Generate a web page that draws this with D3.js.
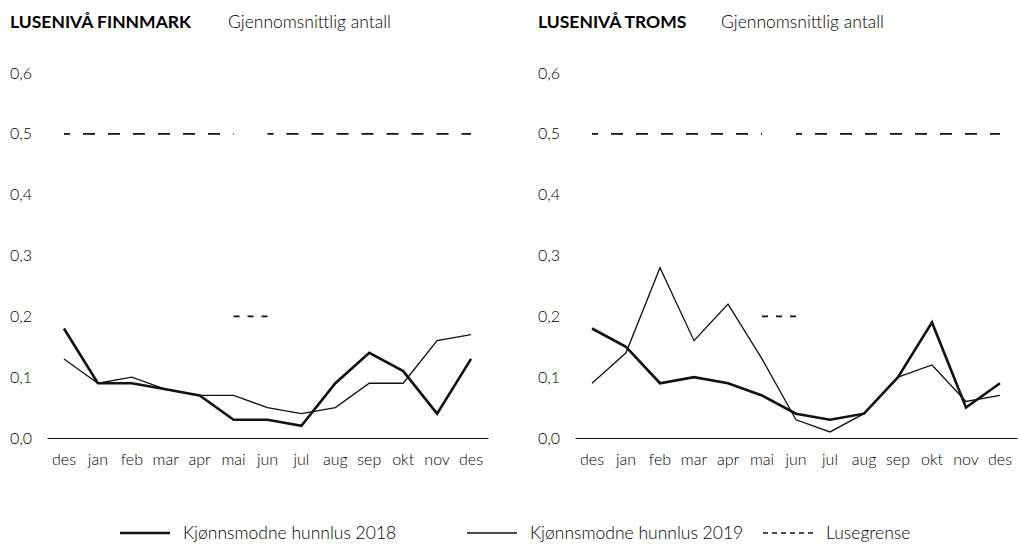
<!DOCTYPE html>
<html>
<head>
<meta charset="utf-8">
<script src="https://cdn.jsdelivr.net/npm/d3@7"></script>
<style>
  html, body { margin: 0; padding: 0; background: #fff; }
  svg { display: block; font-family: Lato, "Open Sans", sans-serif; }
  .tick text { font-size: 16px; fill: #000; font-weight: 300; }
</style>
</head>
<body>
<svg id="chart" width="1018" height="544"></svg>
<script>
// Months on the x axis (december to december)
const months = ["des", "jan", "feb", "mar", "apr", "mai", "jun", "jul", "aug", "sep", "okt", "nov", "des"];
const yTicks = [0, 0.1, 0.2, 0.3, 0.4, 0.5, 0.6];

// Finnmark: average number of adult female lice
const finnmark2018 = [0.18, 0.09, 0.09, 0.08, 0.07, 0.03, 0.03, 0.02, 0.09, 0.14, 0.11, 0.04, 0.13];
const finnmark2019 = [0.13, 0.09, 0.10, 0.08, 0.07, 0.07, 0.05, 0.04, 0.05, 0.09, 0.09, 0.16, 0.17];

// Troms: average number of adult female lice
const troms2018 = [0.18, 0.15, 0.09, 0.10, 0.09, 0.07, 0.04, 0.03, 0.04, 0.10, 0.19, 0.05, 0.09];
const troms2019 = [0.09, 0.14, 0.28, 0.16, 0.22, 0.13, 0.03, 0.01, 0.04, 0.10, 0.12, 0.06, 0.07];

// Lice limit: 0.5 most of the year, 0.2 in the spring period (mai–jun)
const limitFrom  = [0, 5, 6];
const limitTo    = [5, 6, 12];
const limitValue = [0.5, 0.2, 0.5];

const panels = [
  { title: "LUSENIVÅ FINNMARK", s2018: finnmark2018, s2019: finnmark2019,
    titleX: 10, subX: 228, labelX: 10, x0: 47, x1: 488 },
  { title: "LUSENIVÅ TROMS", s2018: troms2018, s2019: troms2019,
    titleX: 538, subX: 721, labelX: 538, x0: 575, x1: 1017 }
];

const svg = d3.select("#chart");
const y = d3.scaleLinear().domain([0, 0.6]).range([438, 73]);
const fmt = v => d3.format(".1f")(v).replace(".", ",");

panels.forEach(p => {
  const g = svg.append("g");
  const x = d3.scaleBand().domain(d3.range(months.length)).range([p.x0, p.x1]);
  const cx = i => x(i) + x.bandwidth() / 2;

  // Titles
  g.append("text").attr("x", p.titleX).attr("y", 28)
    .attr("font-size", 17.5).attr("font-weight", 700).attr("fill", "#000")
    .text(p.title);
  g.append("text").attr("x", p.subX).attr("y", 28)
    .attr("font-size", 17.5).attr("font-weight", 300).attr("fill", "#000")
    .text("Gjennomsnittlig antall");

  // Y tick labels
  g.selectAll(".ylab").data(yTicks).join("text")
    .attr("class", "ylab")
    .attr("x", p.labelX).attr("y", d => y(d))
    .attr("dy", "0.35em")
    .attr("font-size", 16).attr("font-weight", 300).attr("fill", "#000")
    .text(fmt);

  // X axis with month labels
  const ax = g.append("g").attr("transform", `translate(0,${y(0)})`)
    .call(d3.axisBottom(x).tickSize(0).tickPadding(16).tickFormat(i => months[i]));
  ax.select(".domain").attr("stroke", "#111").attr("stroke-width", 1.2);
  ax.selectAll(".tick text").attr("font-family", "Lato, sans-serif");

  // Lice limit segments
  limitValue.forEach((v, k) => {
    const short = limitTo[k] - limitFrom[k] === 1;
    g.append("path")
      .datum([limitFrom[k], limitTo[k]])
      .attr("d", d3.line().x(i => cx(i)).y(() => y(v)))
      .attr("fill", "none").attr("stroke", "#111").attr("stroke-width", 1.6)
      .attr("stroke-dasharray", short ? "6,8" : "12,13")
      .attr("stroke-dashoffset", short ? 0 : 6);
  });

  const line = d3.line().x((d, i) => cx(i)).y(d => y(d));
  g.append("path").datum(p.s2019).attr("d", line)
    .attr("fill", "none").attr("stroke", "#111").attr("stroke-width", 1.3)
    .attr("stroke-linejoin", "miter");
  g.append("path").datum(p.s2018).attr("d", line)
    .attr("fill", "none").attr("stroke", "#111").attr("stroke-width", 2.6)
    .attr("stroke-linejoin", "miter");
});

// Legend
const legendItems = [
  { label: "Kjønnsmodne hunnlus 2018", x: 120, width: 2.6, dash: null },
  { label: "Kjønnsmodne hunnlus 2019", x: 467, width: 1.3, dash: null },
  { label: "Lusegrense", x: 763, width: 1.6, dash: "5,4" }
];
const lg = svg.append("g");
legendItems.forEach(it => {
  lg.append("line").attr("x1", it.x).attr("x2", it.x + 50)
    .attr("y1", 533).attr("y2", 533)
    .attr("stroke", "#111").attr("stroke-width", it.width)
    .attr("stroke-dasharray", it.dash);
  lg.append("text").attr("x", it.x + 63).attr("y", 533).attr("dy", "0.35em")
    .attr("font-size", 17.5).attr("font-weight", 300).attr("fill", "#000")
    .text(it.label);
});
</script>
</body>
</html>
